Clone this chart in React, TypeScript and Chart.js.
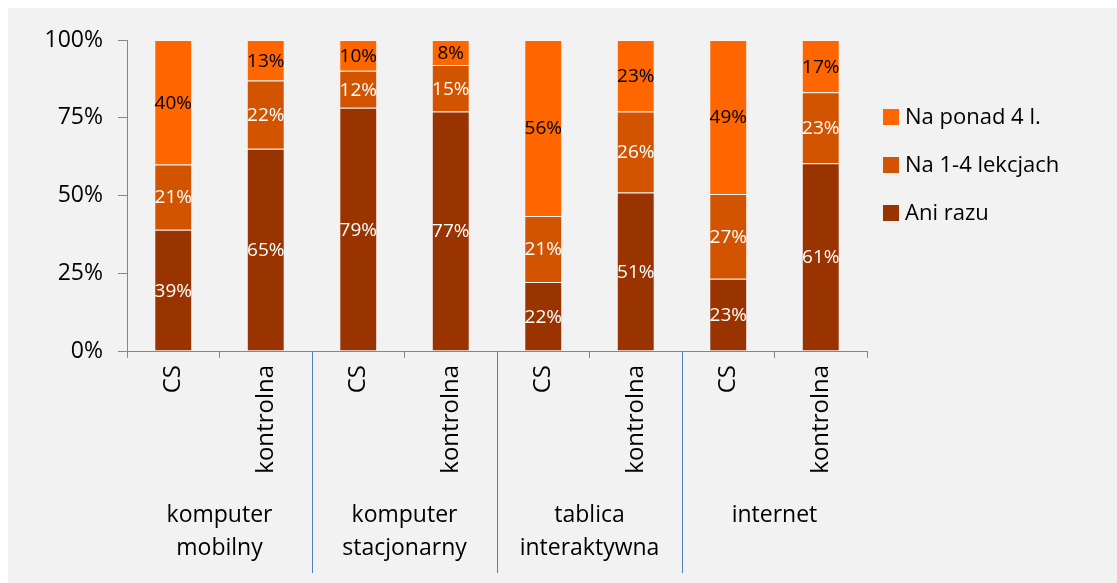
import React, { useEffect, useRef } from "react";
import { Chart, registerables } from "chart.js";

Chart.register(...registerables);

const CATEGORIES = ["CS", "kontrolna", "CS", "kontrolna", "CS", "kontrolna", "CS", "kontrolna"];
const GROUPS = [["komputer", "mobilny"], ["komputer", "stacjonarny"], ["tablica", "interaktywna"], ["internet"]];
const SERIES_NAMES = ["Ani razu", "Na 1-4 lekcjach", "Na ponad 4 l."];
const ANI_RAZU = [39, 65, 79, 77, 22, 51, 23, 61];
const NA_1_4 = [21, 22, 12, 15, 21, 26, 27, 23];
const NA_PONAD_4 = [40, 13, 10, 8, 56, 23, 49, 17];
const Y_TICKS = [0, 25, 50, 75, 100];

const COLORS = ["#993300", "#D25400", "#FF6600"];
const LABEL_COLORS = ["#FFFFFF", "#FFFFFF", "#000000"];
const FONT = "'Open Sans', 'DejaVu Sans', sans-serif";
const GRAY = "#868686";

const RAW = [ANI_RAZU, NA_1_4, NA_PONAD_4];
const TOTALS = CATEGORIES.map((_, i) => RAW.reduce((s, arr) => s + arr[i], 0));

const decorPlugin = {
  id: "decor",
  afterDatasetsDraw(chart: any) {
    const ctx = chart.ctx;
    ctx.save();
    ctx.font = `19px ${FONT}`;
    ctx.textAlign = "center";
    ctx.textBaseline = "middle";
    chart.data.datasets.forEach((ds: any, di: number) => {
      const meta = chart.getDatasetMeta(di);
      meta.data.forEach((el: any, i: number) => {
        const y = (el.y + el.base) / 2;
        ctx.fillStyle = LABEL_COLORS[di];
        ctx.fillText(`${RAW[di][i]}%`, el.x, y + 1);
      });
    });
    ctx.restore();
  },
  afterDraw(chart: any) {
    const ctx = chart.ctx;
    const xs = chart.scales.x;
    const area = chart.chartArea;
    ctx.save();
    ctx.strokeStyle = "#4F81BD";
    ctx.lineWidth = 1;
    for (let g = 1; g < GROUPS.length; g++) {
      const x = Math.round((xs.getPixelForValue(2 * g - 1) + xs.getPixelForValue(2 * g)) / 2) + 0.5;
      ctx.beginPath();
      ctx.moveTo(x, area.bottom);
      ctx.lineTo(x, 565);
      ctx.stroke();
    }
    ctx.font = `23px ${FONT}`;
    ctx.fillStyle = "#000000";
    ctx.textAlign = "center";
    ctx.textBaseline = "middle";
    GROUPS.forEach((lines, g) => {
      const cx = (xs.getPixelForValue(2 * g) + xs.getPixelForValue(2 * g + 1)) / 2;
      lines.forEach((t, li) => {
        ctx.fillText(t, cx, 507 + li * 33);
      });
    });
    const order = [2, 1, 0];
    ctx.font = `22px ${FONT}`;
    ctx.textAlign = "left";
    order.forEach((di, k) => {
      const cy = 109 + k * 48;
      ctx.fillStyle = COLORS[di];
      ctx.fillRect(875, cy - 8, 16, 16);
      ctx.fillStyle = "#000000";
      ctx.fillText(chart.data.datasets[di].label, 897, cy + 1);
    });
    ctx.restore();
  },
};

export default function App() {
  const ref = useRef<HTMLCanvasElement>(null);
  useEffect(() => {
    document.documentElement.style.overflow = "hidden";
    const chart = new Chart(ref.current!, {
      type: "bar",
      data: {
        labels: CATEGORIES,
        datasets: RAW.map((arr, di) => ({
          label: SERIES_NAMES[di],
          data: arr.map((v, i) => (v / TOTALS[i]) * 100),
          backgroundColor: COLORS[di],
          borderColor: "rgba(255,255,255,0.2)",
          borderWidth: 1,
          barPercentage: 0.41,
          categoryPercentage: 1,
        })),
      },
      options: {
        animation: false,
        responsive: true,
        maintainAspectRatio: false,
        layout: { padding: { top: 32, right: 250, left: 0, bottom: 0 } },
        plugins: { legend: { display: false }, tooltip: { enabled: false } },
        scales: {
          x: {
            stacked: true,
            afterFit: (s: any) => {
              s.height = 232;
            },
            grid: {
              drawOnChartArea: false,
              tickLength: 7,
              offset: true,
              color: (c: any) =>
                c.index !== undefined && c.index % 2 === 0 && c.index !== 0 ? "rgba(0,0,0,0)" : GRAY,
            },
            border: { color: GRAY, width: 1 },
            ticks: {
              autoSkip: false,
              minRotation: 90,
              maxRotation: 90,
              padding: 7,
              color: "#000000",
              font: { family: FONT, size: 24 },
            },
          },
          y: {
            stacked: true,
            min: 0,
            max: 100,
            afterFit: (s: any) => {
              s.width = 119;
            },
            afterBuildTicks: (s: any) => {
              s.ticks = Y_TICKS.map((v) => ({ value: v }));
            },
            grid: { drawOnChartArea: false, tickLength: 9, color: GRAY },
            border: { color: GRAY, width: 1 },
            ticks: {
              padding: 15,
              color: "#000000",
              font: { family: FONT, size: 23 },
              callback: (v: any) => `${v}%`,
            },
          },
        },
      },
      plugins: [decorPlugin],
    });
    return () => chart.destroy();
  }, []);
  return (
    <div
      style={{
        position: "absolute",
        left: 8,
        top: 8,
        width: 1109,
        height: 575,
        background: "#F2F2F2",
      }}
    >
      <canvas ref={ref} />
    </div>
  );
}
